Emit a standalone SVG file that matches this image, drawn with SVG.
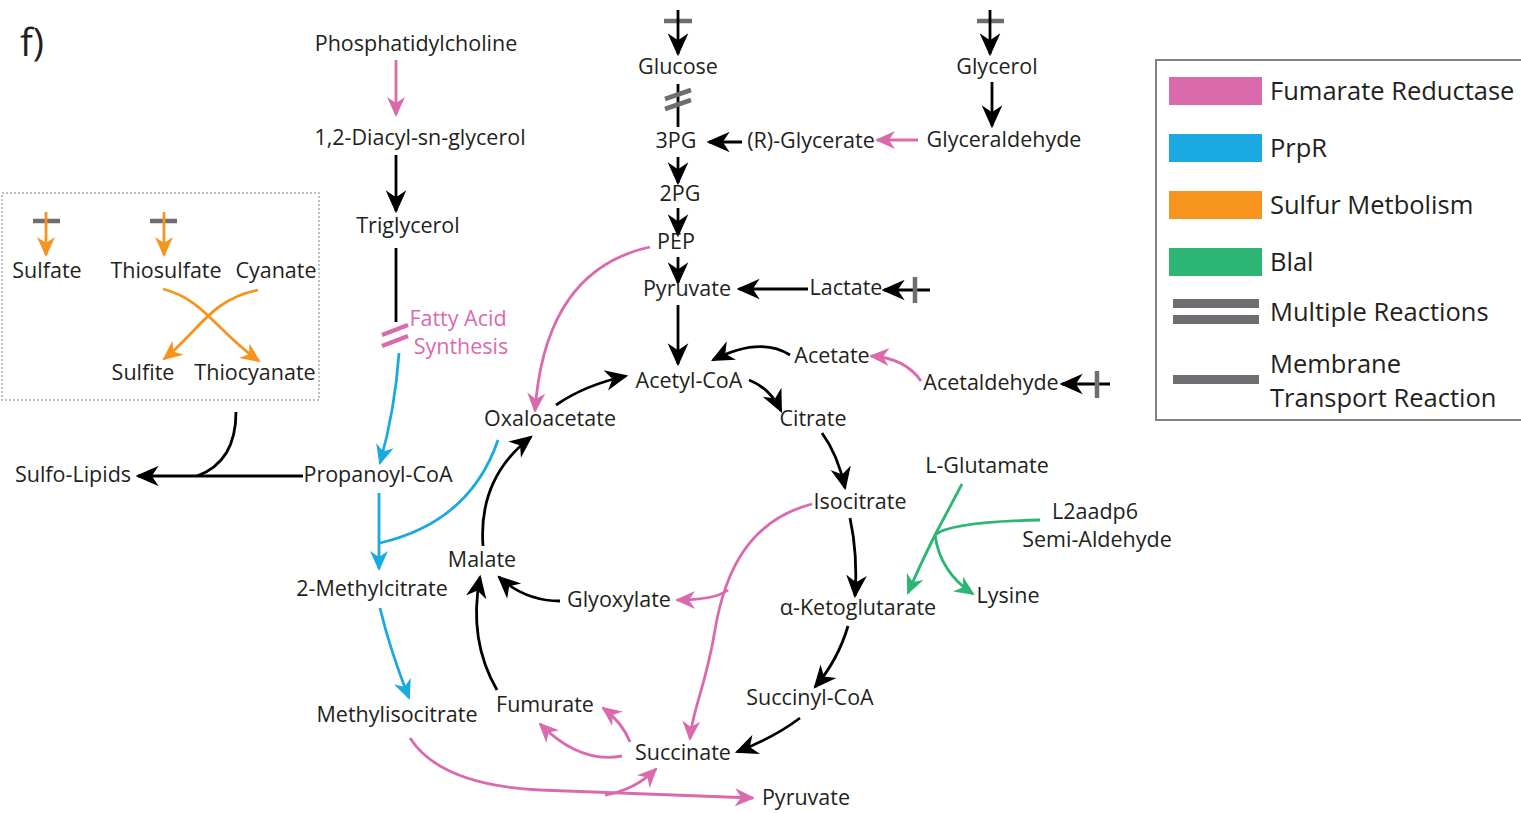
<svg xmlns="http://www.w3.org/2000/svg" width="1521" height="813" viewBox="0 0 1521 813">
<style>
text{font-family:"Open Sans","Noto Sans",sans-serif;font-size:21.5px;fill:#231f20;text-anchor:middle}
.lg{font-size:25.5px;text-anchor:start}
.c{fill:none;stroke-width:2.8}
.k{stroke:#000}
.p{stroke:#db6aad}
.b{stroke:#1aa9e1}
.o{stroke:#f7941d}
.g{stroke:#2db673}
.gr{stroke:#6d6e71;stroke-width:4.5;fill:none}
</style>
<defs>
<marker id="ak" viewBox="0 0 20 20" refX="18" refY="10" markerWidth="23" markerHeight="23" markerUnits="userSpaceOnUse" orient="auto"><path d="M0,1 L20,10 L0,19 L6,10 z" fill="#000"/></marker>
<marker id="ap" viewBox="0 0 20 20" refX="18" refY="10" markerWidth="20" markerHeight="20" markerUnits="userSpaceOnUse" orient="auto"><path d="M0,1 L20,10 L0,19 L6,10 z" fill="#db6aad"/></marker>
<marker id="ab" viewBox="0 0 20 20" refX="18" refY="10" markerWidth="20" markerHeight="20" markerUnits="userSpaceOnUse" orient="auto"><path d="M0,1 L20,10 L0,19 L6,10 z" fill="#1aa9e1"/></marker>
<marker id="ao" viewBox="0 0 20 20" refX="18" refY="10" markerWidth="20" markerHeight="20" markerUnits="userSpaceOnUse" orient="auto"><path d="M0,1 L20,10 L0,19 L6,10 z" fill="#f7941d"/></marker>
<marker id="ag" viewBox="0 0 20 20" refX="18" refY="10" markerWidth="20" markerHeight="20" markerUnits="userSpaceOnUse" orient="auto"><path d="M0,1 L20,10 L0,19 L6,10 z" fill="#2db673"/></marker>
</defs>
<rect width="1521" height="813" fill="#fff"/>
<text x="20" y="56" style="font-size:38px;text-anchor:start">f)</text>

<g id="sulfur-box">
<rect x="2" y="193" width="317" height="207" fill="none" stroke="#a7a9ac" stroke-width="1.5" stroke-dasharray="2,2"/>
</g>

<g id="connectors">
<!-- glucose column -->
<line class="gr" x1="664" y1="21" x2="692" y2="21"/>
<path class="c k" d="M678,10 L678,54" marker-end="url(#ak)"/>
<path class="c k" d="M678,84 L678,127"/>
<line class="gr" x1="665" y1="99" x2="691" y2="90"/>
<line class="gr" x1="665" y1="109" x2="691" y2="100"/>
<path class="c k" d="M678,157 L678,183" marker-end="url(#ak)"/>
<path class="c k" d="M678,208 L678,235" marker-end="url(#ak)"/>
<path class="c k" d="M678,257 L678,283" marker-end="url(#ak)"/>
<path class="c k" d="M678,305 L678,364" marker-end="url(#ak)"/>
<path class="c k" d="M742,142 L709,142" marker-end="url(#ak)"/>
<path class="c p" d="M918,140 L877,140" marker-end="url(#ap)"/>
<!-- glycerol -->
<line class="gr" x1="977" y1="21" x2="1004" y2="21"/>
<path class="c k" d="M990,10 L990,54" marker-end="url(#ak)"/>
<path class="c k" d="M992,82 L992,126" marker-end="url(#ak)"/>
<!-- lactate -->
<path class="c k" d="M808,289 L739,289" marker-end="url(#ak)"/>
<path class="c k" d="M930,290 L884,290" marker-end="url(#ak)"/>
<line class="gr" x1="915" y1="277" x2="915" y2="303"/>
<!-- acetate -->
<path class="c k" d="M790,355 Q760,336 713,360" marker-end="url(#ak)"/>
<path class="c p" d="M921,381 Q905,358 871,356" marker-end="url(#ap)"/>
<path class="c k" d="M1110,384 L1062,384" marker-end="url(#ak)"/>
<line class="gr" x1="1097" y1="371" x2="1097" y2="398"/>
<!-- TCA -->
<path class="c k" d="M749,380 Q770,388 781,411" marker-end="url(#ak)"/>
<path class="c k" d="M822,433 Q838,455 845,488" marker-end="url(#ak)"/>
<path class="c k" d="M850,518 Q858,555 855,596" marker-end="url(#ak)"/>
<path class="c k" d="M848,626 Q838,660 815,687" marker-end="url(#ak)"/>
<path class="c k" d="M800,718 Q775,737 737,752" marker-end="url(#ak)"/>
<path class="c p" d="M622,756 Q580,764 540,724" marker-end="url(#ap)"/>
<path class="c p" d="M630,742 Q622,722 603,708" marker-end="url(#ap)"/>
<path class="c k" d="M497,690 Q468,640 480,577" marker-end="url(#ak)"/>
<path class="c k" d="M560,601 Q525,601 499,577" marker-end="url(#ak)"/>
<path class="c k" d="M483,546 Q478,478 531,437" marker-end="url(#ak)"/>
<path class="c k" d="M556,405 Q585,385 626,376" marker-end="url(#ak)"/>
<path class="c p" d="M650,247 Q545,270 535,411" marker-end="url(#ap)"/>
<path class="c p" d="M812,504 C750,520 725,570 715,630 S692,710 690,739" marker-end="url(#ap)"/>
<path class="c p" d="M728,590 Q715,600 677,600" marker-end="url(#ap)"/>
<!-- BlaI -->
<path class="c g" d="M962,484 L935,535 Q920,565 908,593" marker-end="url(#ag)"/>
<path class="c g" d="M1040,520 Q950,522 935,535"/>
<path class="c g" d="M935,535 Q940,572 973,594" marker-end="url(#ag)"/>
<!-- lipids -->
<path class="c p" d="M396,60 L396,115" marker-end="url(#ap)"/>
<path class="c k" d="M396,155 L396,211" marker-end="url(#ak)"/>
<path class="c k" d="M396,248 L396,322"/>
<line x1="382" y1="335" x2="408" y2="325" stroke="#db6aad" stroke-width="4.5"/>
<line x1="382" y1="346" x2="408" y2="336" stroke="#db6aad" stroke-width="4.5"/>
<path class="c b" d="M399,353 Q395,410 380,463" marker-end="url(#ab)"/>
<path class="c k" d="M303,476 L138,476" marker-end="url(#ak)"/>
<path class="c k" d="M236,412 Q236,462 197,476"/>
<path class="c b" d="M379,493 L379,569" marker-end="url(#ab)"/>
<path class="c b" d="M498,440 Q470,522 380,543"/>
<path class="c b" d="M380,608 Q390,650 409,698" marker-end="url(#ab)"/>
<path class="c p" d="M410,738 Q440,785 540,790 L753,798" marker-end="url(#ap)"/>
<path class="c p" d="M605,795 Q635,790 656,769" marker-end="url(#ap)"/>
<!-- sulfur -->
<line class="gr" x1="33" y1="221" x2="60" y2="221"/>
<path class="c o" d="M46,212 L46,255" marker-end="url(#ao)"/>
<line class="gr" x1="150" y1="221" x2="177" y2="221"/>
<path class="c o" d="M164,212 L164,255" marker-end="url(#ao)"/>
<path class="c o" d="M163,289 C205,300 215,330 259,361" marker-end="url(#ao)"/>
<path class="c o" d="M258,290 C210,300 200,330 164,359" marker-end="url(#ao)"/>
</g>

<g id="n-phosphatidylcholine"><text x="416" y="51">Phosphatidylcholine</text></g>
<g id="n-diacylglycerol"><text x="420" y="145">1,2-Diacyl-sn-glycerol</text></g>
<g id="n-triglycerol"><text x="408" y="233">Triglycerol</text></g>
<g id="n-fatty-acid"><text x="458" y="326" style="fill:#db6aad">Fatty Acid</text><text x="461" y="354" style="fill:#db6aad">Synthesis</text></g>
<g id="n-propanoyl-coa"><text x="378" y="482">Propanoyl-CoA</text></g>
<g id="n-sulfo-lipids"><text x="73" y="482">Sulfo-Lipids</text></g>
<g id="n-2-methylcitrate"><text x="372" y="596">2-Methylcitrate</text></g>
<g id="n-methylisocitrate"><text x="397" y="722">Methylisocitrate</text></g>
<g id="n-sulfate"><text x="47" y="278">Sulfate</text></g>
<g id="n-thiosulfate"><text x="166" y="278">Thiosulfate</text></g>
<g id="n-cyanate"><text x="276" y="278">Cyanate</text></g>
<g id="n-sulfite"><text x="143" y="380">Sulfite</text></g>
<g id="n-thiocyanate"><text x="255" y="380">Thiocyanate</text></g>
<g id="n-glucose"><text x="678" y="74">Glucose</text></g>
<g id="n-3pg"><text x="676" y="148">3PG</text></g>
<g id="n-2pg"><text x="680" y="201">2PG</text></g>
<g id="n-pep"><text x="676" y="249">PEP</text></g>
<g id="n-pyruvate"><text x="687" y="296">Pyruvate</text></g>
<g id="n-r-glycerate"><text x="811" y="148">(R)-Glycerate</text></g>
<g id="n-glyceraldehyde"><text x="1004" y="147">Glyceraldehyde</text></g>
<g id="n-glycerol"><text x="997" y="74">Glycerol</text></g>
<g id="n-lactate"><text x="846" y="295">Lactate</text></g>
<g id="n-acetyl-coa"><text x="689" y="388">Acetyl-CoA</text></g>
<g id="n-acetate"><text x="832" y="363">Acetate</text></g>
<g id="n-acetaldehyde"><text x="991" y="390">Acetaldehyde</text></g>
<g id="n-oxaloacetate"><text x="550" y="426">Oxaloacetate</text></g>
<g id="n-citrate"><text x="813" y="426">Citrate</text></g>
<g id="n-isocitrate"><text x="860" y="509">Isocitrate</text></g>
<g id="n-akg"><text x="858" y="615">α-Ketoglutarate</text></g>
<g id="n-succinyl-coa"><text x="810" y="705">Succinyl-CoA</text></g>
<g id="n-succinate"><text x="683" y="760">Succinate</text></g>
<g id="n-fumurate"><text x="545" y="712">Fumurate</text></g>
<g id="n-malate"><text x="482" y="567">Malate</text></g>
<g id="n-glyoxylate"><text x="619" y="607">Glyoxylate</text></g>
<g id="n-pyruvate2"><text x="806" y="805">Pyruvate</text></g>
<g id="n-l-glutamate"><text x="987" y="473">L-Glutamate</text></g>
<g id="n-l2aadp6"><text x="1095" y="519">L2aadp6</text><text x="1097" y="547">Semi-Aldehyde</text></g>
<g id="n-lysine"><text x="1008" y="603">Lysine</text></g>

<g id="legend">
<rect x="1156" y="60" width="370" height="360" fill="none" stroke="#808285" stroke-width="2"/>
<rect x="1169" y="77" width="93" height="28" fill="#db6aad"/>
<rect x="1169" y="134" width="93" height="28" fill="#1aa9e1"/>
<rect x="1169" y="191" width="93" height="28" fill="#f7941d"/>
<rect x="1169" y="248" width="93" height="28" fill="#2db673"/>
<rect x="1173" y="299" width="86" height="9" fill="#6d6e71"/>
<rect x="1173" y="315" width="86" height="9" fill="#6d6e71"/>
<rect x="1173" y="375" width="86" height="9" fill="#6d6e71"/>
<text class="lg" x="1270" y="100">Fumarate Reductase</text>
<text class="lg" x="1270" y="157">PrpR</text>
<text class="lg" x="1270" y="214">Sulfur Metbolism</text>
<text class="lg" x="1270" y="271">Blal</text>
<text class="lg" x="1270" y="321">Multiple Reactions</text>
<text class="lg" x="1270" y="373">Membrane</text>
<text class="lg" x="1270" y="407">Transport Reaction</text>
</g>
</svg>
